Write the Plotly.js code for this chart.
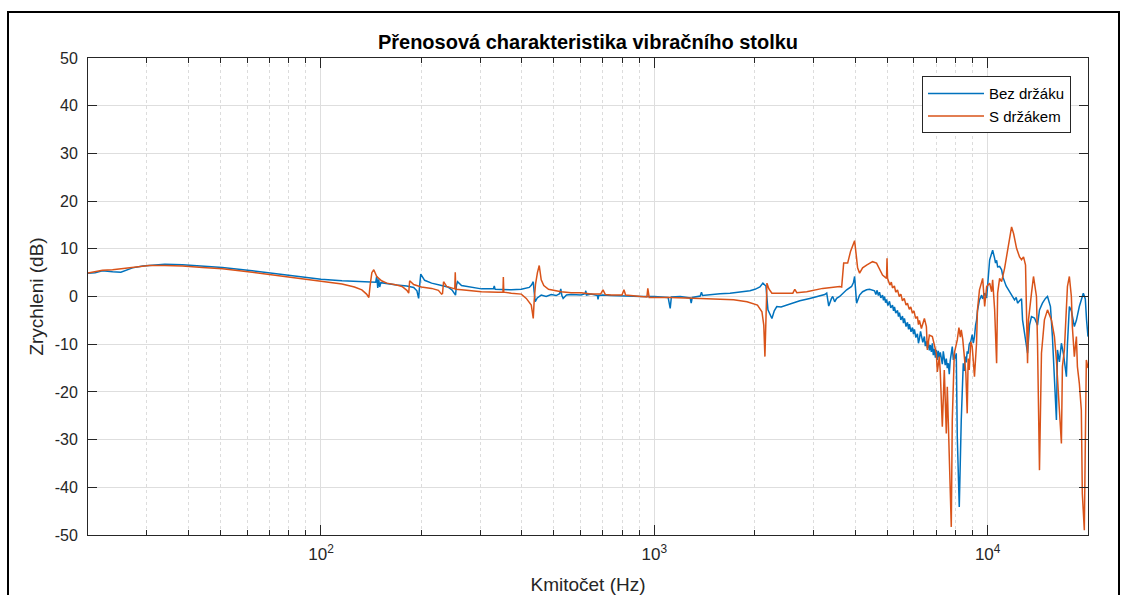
<!DOCTYPE html>
<html>
<head>
<meta charset="utf-8">
<script src="https://cdn.plot.ly/plotly-3.0.1.min.js"></script>
<style>html,body{margin:0;padding:0;background:#fff;}#chart{width:1132px;height:595px;}</style>
</head>
<body>
<div id="chart"></div>
<script>
// Series 1: "Bez držáku" — frequency (Hz) and level (dB)
const bezFreq = [20,21,22.1,23,23.7,25.1,26.3,27.2,29.2,31.3,34,38.4,44.1,50.6,62.2,76.4,87.7,100,115.6,132.6,140,146,147,148,149,150,151.2,157.5,168.7,180.8,189.7,194,196.3,197.5,199.2,204.6,214.7,230,240,247,251,253.3,255,256.8,264,282.8,302.9,329,331,333,372.4,398.9,421.5,428,433.3,436,439.3,445.4,452,457.8,473.8,490.5,507.6,520,524,528,532.7,545,562.8,602.9,620,623,626,645.9,675,677.8,681,701.5,741.2,810.6,850.6,911,1000,1100,1116,1125,1196,1281,1290,1300,1373,1385,1395,1470,1575,1687,1808,1936,2004,2074,2117,2162,2192,2222,2253,2290,2330,2400,2550,2732,2927,3135,3245,3290,3336,3400,3429,3476,3524,3598,3673,3776,3907,3960,3989,4015,4044,4129,4215,4333,4423,
  4578,4620,4660,4700,4738,4780,4837,4870,4905,4940,4973,5020,5076,5120,5182,5220,5254,5300,5364,5400,5438,5490,5552,5590,5628,5690,5746,5790,5826,5890,5948,5990,6029,6090,6155,6200,6241,6290,6328,6390,6459,6500,6549,6594,6640,6685,6730,6778,6825,6870,6919,6970,7015,7064,7110,7162,7210,7261,7311,7360,7412,7460,7515,7567,7620,7672,7720,7778,7832,7890,7941,8000,8051,8107,8219,8333,8390,8450,8506,8560,8624,8683,8740,8804,8900,8988,9060,9130,9200,9260,9320,9450,9595,9662,9796,9931,
  10139,10350,10494,10560,10639,10713,10861,11012,11120,11240,11360,11477,11640,11796,12040,12180,12296,12464,12637,12725,12900,13173,13353,13537,13820,14112,14304,14600,14907,15119,15430,15640,16080,16197,16415,16643,16874,17230,17352,17584,17829,18200,18460,18836,19364,19633,19800,20000];
const bezDb = [4.9,5.0,5.4,5.2,5.2,5.1,5.6,6.0,6.4,6.6,6.75,6.65,6.4,6.1,5.4,4.6,4.0,3.6,3.3,3.1,3.0,3.0,4.3,1.8,3.6,2.0,2.9,2.7,2.4,2.2,1.9,1.2,-0.4,2.0,4.7,3.4,2.8,2.3,2.0,1.4,0.7,0.3,2.4,3.1,2.3,2.0,1.6,1.6,2.2,1.5,1.4,1.5,1.9,2.4,3.1,1.0,-1.1,-0.3,0.0,0.3,0.0,0.4,0.2,0.6,1.6,0.2,-0.4,0.3,0.4,0.3,0.6,1.2,0.3,0.5,0.2,-0.6,0.2,0.3,0.2,0.1,0.0,0.0,0.0,-0.2,-2.5,-0.1,0.0,-0.3,-1.4,-0.2,0.1,0.9,0.2,0.4,0.6,0.7,0.9,1.2,1.5,2.0,2.8,2.2,-2.8,-3.8,-4.6,-3.0,-2.1,-2.2,-1.6,-0.9,-0.4,0.1,0.4,0.7,-2.0,-0.4,0.0,-1.1,-0.4,0.0,0.6,1.4,2.1,3.0,4.2,1.0,-1.4,0.3,1.0,1.4,1.5,
  1.2,0.4,1.3,0.2,0.9,-0.3,0.3,-0.8,0.0,-1.3,-0.6,-1.9,-1.0,-2.4,-1.8,-3.0,-2.2,-3.5,-2.9,-4.2,-3.4,-4.9,-4.1,-5.6,-4.6,-6.3,-5.4,-6.9,-5.8,-7.4,-6.5,-7.9,-6.9,-8.6,-7.8,-9.8,-8.9,-7.3,-8.2,-9.6,-8.4,-10.4,-9.4,-10.8,-9.6,-11.3,-10.2,-11.6,-9.8,-12.3,-11.0,-12.8,-11.2,-13.3,-11.4,-12.8,-11.7,-13.4,-14.2,-11.5,-12.6,-14.4,-13.0,-15.0,-14.0,-16.3,-13.5,-11.8,-10.5,-13.3,-12.2,-13.0,-11.9,-29.4,-44.1,-25.9,-17.5,-14.0,-15.6,-12.6,-13.8,-11.5,-12.0,-10.0,-9.4,-8.0,-9.8,-8.4,-6.0,-5.0,-3.0,-0.7,0.3,-0.5,0.7,-0.3,
  7.7,9.7,8.0,7.0,7.6,6.2,6.3,5.6,4.0,2.8,2.2,1.7,1.0,0.3,-0.7,-0.2,-1.4,-0.9,-0.5,-4.9,-7.7,-11.9,-6.0,-4.2,-4.5,-6.0,-2.8,-1.4,-0.4,0.0,-2.1,-8.4,-25.9,-11.2,-13.7,-9.8,-12.0,-16.8,-10.0,-2.1,-3.0,-6.3,-5.0,-2.1,0.7,-0.5,-4.9,-8.4];

// Series 2: "S držákem" — frequency (Hz) and level (dB)
const sFreq = [20,21,22.1,23.7,25.1,26.3,27.6,30.5,34,38.4,44.1,50.6,62.2,76.4,87.7,100,115.6,126,132.6,137,139.2,140.5,142.1,144,147,152,157.5,168.7,175,181,183.3,184.5,189.7,200,214.7,225,230,231.5,233.2,238.1,246.4,252,252.8,253.8,264,282.8,302.9,340,351.5,352.4,353.5,372.4,398.9,412.9,421.5,427.4,430,433.3,436,440,446,451.6,457.8,466,481.5,507.6,525,562.8,602.9,645.9,690,701.5,713,741.2,800,810.6,820,911,950,956,965,1000,1116,1373,1729,1897,2039,2103,2130,2147,2162,2177,2207,2253,2330,2603,2639,2676,2866,3070,3200,3598,3648,3699,3802,3880,3989,4044,4072,4129,4215,4333,4515,4642,4837,4973,4990,
  5007,5090,5140,5182,5250,5300,5364,5430,5490,5552,5620,5690,5746,5820,5880,5948,6010,6080,6155,6200,6241,6328,6459,6549,6594,6685,6825,6919,7015,7064,7162,7210,7261,7311,7412,7515,7567,7672,7778,7832,7941,8107,8200,8280,8333,8420,8506,8600,8683,8740,8804,8900,8988,
  9130,9260,9320,9450,9595,9662,9796,9931,10139,10279,10350,10494,10639,10713,10861,11012,11240,11477,11635,11796,11960,12210,12464,12637,12812,12990,13173,13260,13537,13725,14010,14112,14304,14502,14800,15119,15536,15860,16080,16197,16415,16643,16760,16990,17230,17352,17584,17829,17950,18200,18460,18589,18836,19099,19230,19500,19633,19770,20000];
const sDb = [4.9,5.2,5.5,5.6,5.8,6.0,6.2,6.5,6.5,6.4,6.1,5.8,5.1,4.3,3.7,3.2,2.6,2.0,1.4,0.5,-0.2,2.5,5.0,5.6,4.2,3.3,2.8,2.4,2.1,1.3,0.7,3.3,2.5,2.0,1.7,1.3,0.5,0.6,3.1,2.1,1.7,1.6,5.1,1.5,1.4,1.2,1.0,0.9,0.9,4.1,0.9,0.7,0.5,-0.4,-1.2,-1.8,-3.0,-4.6,-1.0,2.5,5.0,6.5,3.5,2.3,1.5,1.1,1.0,0.8,0.8,0.5,0.5,1.4,0.4,0.3,0.3,1.4,0.3,0.0,-0.1,1.7,-0.2,-0.2,-0.2,-0.4,-0.7,-1.1,-1.8,-3.2,-6.0,-12.6,-3.0,2.8,1.6,0.7,0.7,0.7,1.5,0.8,1.0,1.5,1.7,2.1,2.0,7.0,7.0,9.5,11.7,8.0,6.0,4.9,6.0,6.6,7.3,7.0,4.5,3.8,8.0,
  3.8,2.4,3.0,1.8,2.2,0.9,1.4,0.0,0.5,-0.9,-0.4,-1.8,-1.4,-2.7,-2.2,-3.5,-3.0,-4.6,-4.2,-5.9,-5.0,-6.7,-4.6,-6.3,-11.2,-8.1,-8.4,-10.0,-11.9,-15.8,-12.6,-16.0,-20.3,-27.3,-15.4,-28.7,-18.9,-32.2,-48.3,-25.9,-11.9,-9.1,-6.5,-8.5,-7.0,-9.0,-11.9,-16.0,-24.5,-13.0,-15.4,-9.5,-10.5,
  -16.8,-9.8,-2.8,1.4,3.5,3.8,-2.1,2.1,2.8,1.0,3.5,-2.8,-14.0,0.7,3.8,3.1,5.9,9.7,11.8,14.6,13.2,10.1,8.3,7.7,8.3,6.6,-14.0,-4.9,0.7,4.2,0.0,-9.8,-36.4,-11.9,-4.9,-2.8,-4.9,-8.4,-13.3,-18.2,-23.8,-30.8,-14.7,-11.2,-3.5,2.1,4.2,0.0,-6.3,-12.6,-8.4,-14.7,-18.2,-23.8,-41.3,-49.0,-30.8,-13.3,-15.0];

const seriesNames = ["Bez držáku", "S držákem"];
const titleText = "Přenosová charakteristika vibračního stolku";
const xTitle = "Kmitočet (Hz)";
const yTitle = "Zrychleni (dB)";
const xTickVals = [100, 1000, 10000];
const xTickText = ["10<sup>2</sup>", "10<sup>3</sup>", "10<sup>4</sup>"];
const xMinorVals = [20,30,40,50,60,70,80,90,200,300,400,500,600,700,800,900,2000,3000,4000,5000,6000,7000,8000,9000];
const yTickVals = [-50,-40,-30,-20,-10,0,10,20,30,40,50];
const yTickText = ["-50","-40","-30","-20","-10","0","10","20","30","40","50"];

const FONT = "Liberation Sans, Arial, Helvetica, sans-serif";
const AX = "#262626";

const traces = [
  {x: bezFreq, y: bezDb, name: seriesNames[0], type: "scatter", mode: "lines",
   line: {color: "#0072BD", width: 1.5}},
  {x: sFreq, y: sDb, name: seriesNames[1], type: "scatter", mode: "lines",
   line: {color: "#D95319", width: 1.5}}
];

const layout = {
  width: 1132, height: 595,
  margin: {l: 88, r: 44, t: 58, b: 60},
  paper_bgcolor: "#ffffff", plot_bgcolor: "#ffffff",
  font: {family: FONT, color: AX, size: 16},
  title: {text: "<b>" + titleText + "</b>", font: {family: FONT, size: 20, color: "#000"},
          x: 0.5, xref: "paper", y: 1 - 42/595, yref: "container", yanchor: "middle"},
  showlegend: true,
  legend: {x: 0.983, y: 0.962, xanchor: "right", yanchor: "top", bgcolor: "#ffffff",
           bordercolor: AX, borderwidth: 1, font: {family: FONT, size: 15, color: "#000"},
           tracegroupgap: 0, itemwidth: 56},
  xaxis: {
    type: "log", range: [Math.log10(20), Math.log10(20000)],
    tickmode: "array", tickvals: xTickVals, ticktext: xTickText,
    ticks: "inside", ticklen: 10, tickcolor: AX, tickwidth: 1,
    showline: true, linecolor: AX, linewidth: 1, mirror: "ticks",
    showgrid: true, gridcolor: "#dedede", gridwidth: 1, zeroline: false,
    tickfont: {family: FONT, size: 17, color: AX}, ticklabelstandoff: 4,
    minor: {tickmode: "array", tickvals: xMinorVals, ticks: "inside", ticklen: 5, tickcolor: AX,
            showgrid: true, gridcolor: "#dcdcdc", griddash: "dot", gridwidth: 1},
    title: {text: xTitle, font: {family: FONT, size: 19, color: AX}, standoff: 18}
  },
  yaxis: {
    range: [-50, 50], tickmode: "array", tickvals: yTickVals, ticktext: yTickText,
    ticks: "inside", ticklen: 9, tickcolor: AX, tickwidth: 1,
    showline: true, linecolor: AX, linewidth: 1, mirror: "ticks",
    showgrid: true, gridcolor: "#dedede", gridwidth: 1, zeroline: false,
    tickfont: {family: FONT, size: 16, color: AX}, ticklabelstandoff: 6,
    title: {text: yTitle, font: {family: FONT, size: 19, color: AX}, standoff: 6}
  },
  shapes: [
    {type: "rect", xref: "paper", yref: "paper", x0: -0.08, x1: 1.031, y0: -0.15, y1: 1.0964,
     line: {color: "#000", width: 2}, fillcolor: "rgba(0,0,0,0)", layer: "below"}
  ]
};

Plotly.newPlot("chart", traces, layout, {displayModeBar: false, staticPlot: true});
</script>
</body>
</html>
